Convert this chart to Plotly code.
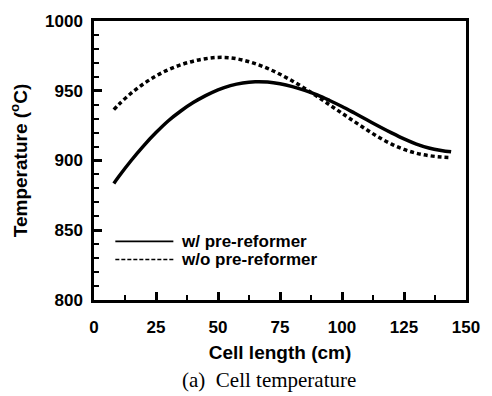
import plotly.graph_objects as go

# Data
length_cm = [8, 10, 15, 20, 25, 30, 35, 40, 45, 50, 55, 60, 65, 70, 75, 80, 85, 90,
             95, 100, 105, 110, 115, 120, 125, 130, 135, 140, 144]
temp_with_pre = [883.5, 888.5, 900, 910.5, 920, 928.5, 935.5, 941.5, 946.5, 950.7, 953.7,
                 955.6, 956.4, 956.2, 955.0, 953.0, 950.3, 947.0, 943.0, 938.7, 934.0,
                 929.2, 924.4, 919.8, 915.5, 911.8, 909.0, 907.2, 906.2]
temp_without_pre = [936.5, 940.2, 948.3, 955.0, 960.6, 965.1, 968.6, 971.2, 973.0, 973.9,
                    973.6, 972.0, 969.4, 966.0, 961.8, 957.0, 951.7, 945.9, 939.9, 933.9,
                    927.9, 922.0, 916.5, 911.7, 907.9, 905.2, 903.5, 902.5, 902.1]
series_names = ["w/ pre-reformer", "w/o pre-reformer"]
x_ticks = [0, 25, 50, 75, 100, 125, 150]
y_ticks = [800, 850, 900, 950, 1000]

FONT = "Liberation Sans, Arial, sans-serif"

fig = go.Figure()
fig.add_trace(go.Scatter(x=length_cm, y=temp_with_pre, mode="lines",
                         line=dict(color="black", width=3.5, shape="spline"),
                         name=series_names[0], showlegend=False))
fig.add_trace(go.Scatter(x=length_cm, y=temp_without_pre, mode="lines",
                         line=dict(color="black", width=3.5, dash="4px,3px", shape="spline"),
                         name=series_names[1], showlegend=False))

# Custom legend (line samples + labels)
leg_y = [842, 829]
leg_dash = ["solid", "4px,2px"]
for i in range(2):
    fig.add_shape(type="line", xref="x", yref="y", x0=8.6, x1=32, y0=leg_y[i], y1=leg_y[i],
                  line=dict(color="black", width=1.6, dash=leg_dash[i]))
    fig.add_annotation(x=34.2, y=leg_y[i], xref="x", yref="y", text="<b>%s</b>" % series_names[i],
                       showarrow=False, xanchor="left", yanchor="middle",
                       font=dict(family=FONT, size=17, color="black"))

fig.add_annotation(x=0.47, y=-0.287, xref="paper", yref="paper", text="(a)&nbsp;&nbsp;Cell temperature",
                   showarrow=False, xanchor="center", yanchor="middle",
                   font=dict(family="Liberation Serif, Times New Roman, serif", size=21, color="black"))

axis_common = dict(showline=True, linecolor="black", linewidth=2.5, mirror=True,
                   ticks="inside", ticklen=8, tickwidth=2.5, tickcolor="black",
                   showgrid=False, zeroline=False,
                   tickfont=dict(family=FONT, size=17, color="black"))

fig.update_xaxes(range=[0, 150], tickvals=x_ticks, ticktext=["<b>%d</b>" % v for v in x_ticks],
                 minor=dict(ticks="inside", dtick=12.5, ticklen=5, tickwidth=2, tickcolor="black"),
                 ticklabelstandoff=10,
                 title=dict(text="<b>Cell length (cm)</b>", font=dict(family=FONT, size=19, color="black"),
                            standoff=10),
                 **axis_common)
fig.update_yaxes(range=[800, 1000], tickvals=y_ticks, ticktext=["<b>%d</b>" % v for v in y_ticks],
                 minor=dict(ticks="inside", dtick=10, ticklen=5, tickwidth=2, tickcolor="black"),
                 ticklabelstandoff=5,
                 title=dict(text="<b>Temperature (<sup>o</sup>C)</b>", font=dict(family=FONT, size=19, color="black"),
                            standoff=13),
                 **axis_common)

fig.update_layout(width=492, height=396, margin=dict(l=94, r=14, t=14, b=96),
                  plot_bgcolor="white", paper_bgcolor="white", showlegend=False)

fig.write_html("out.html")
